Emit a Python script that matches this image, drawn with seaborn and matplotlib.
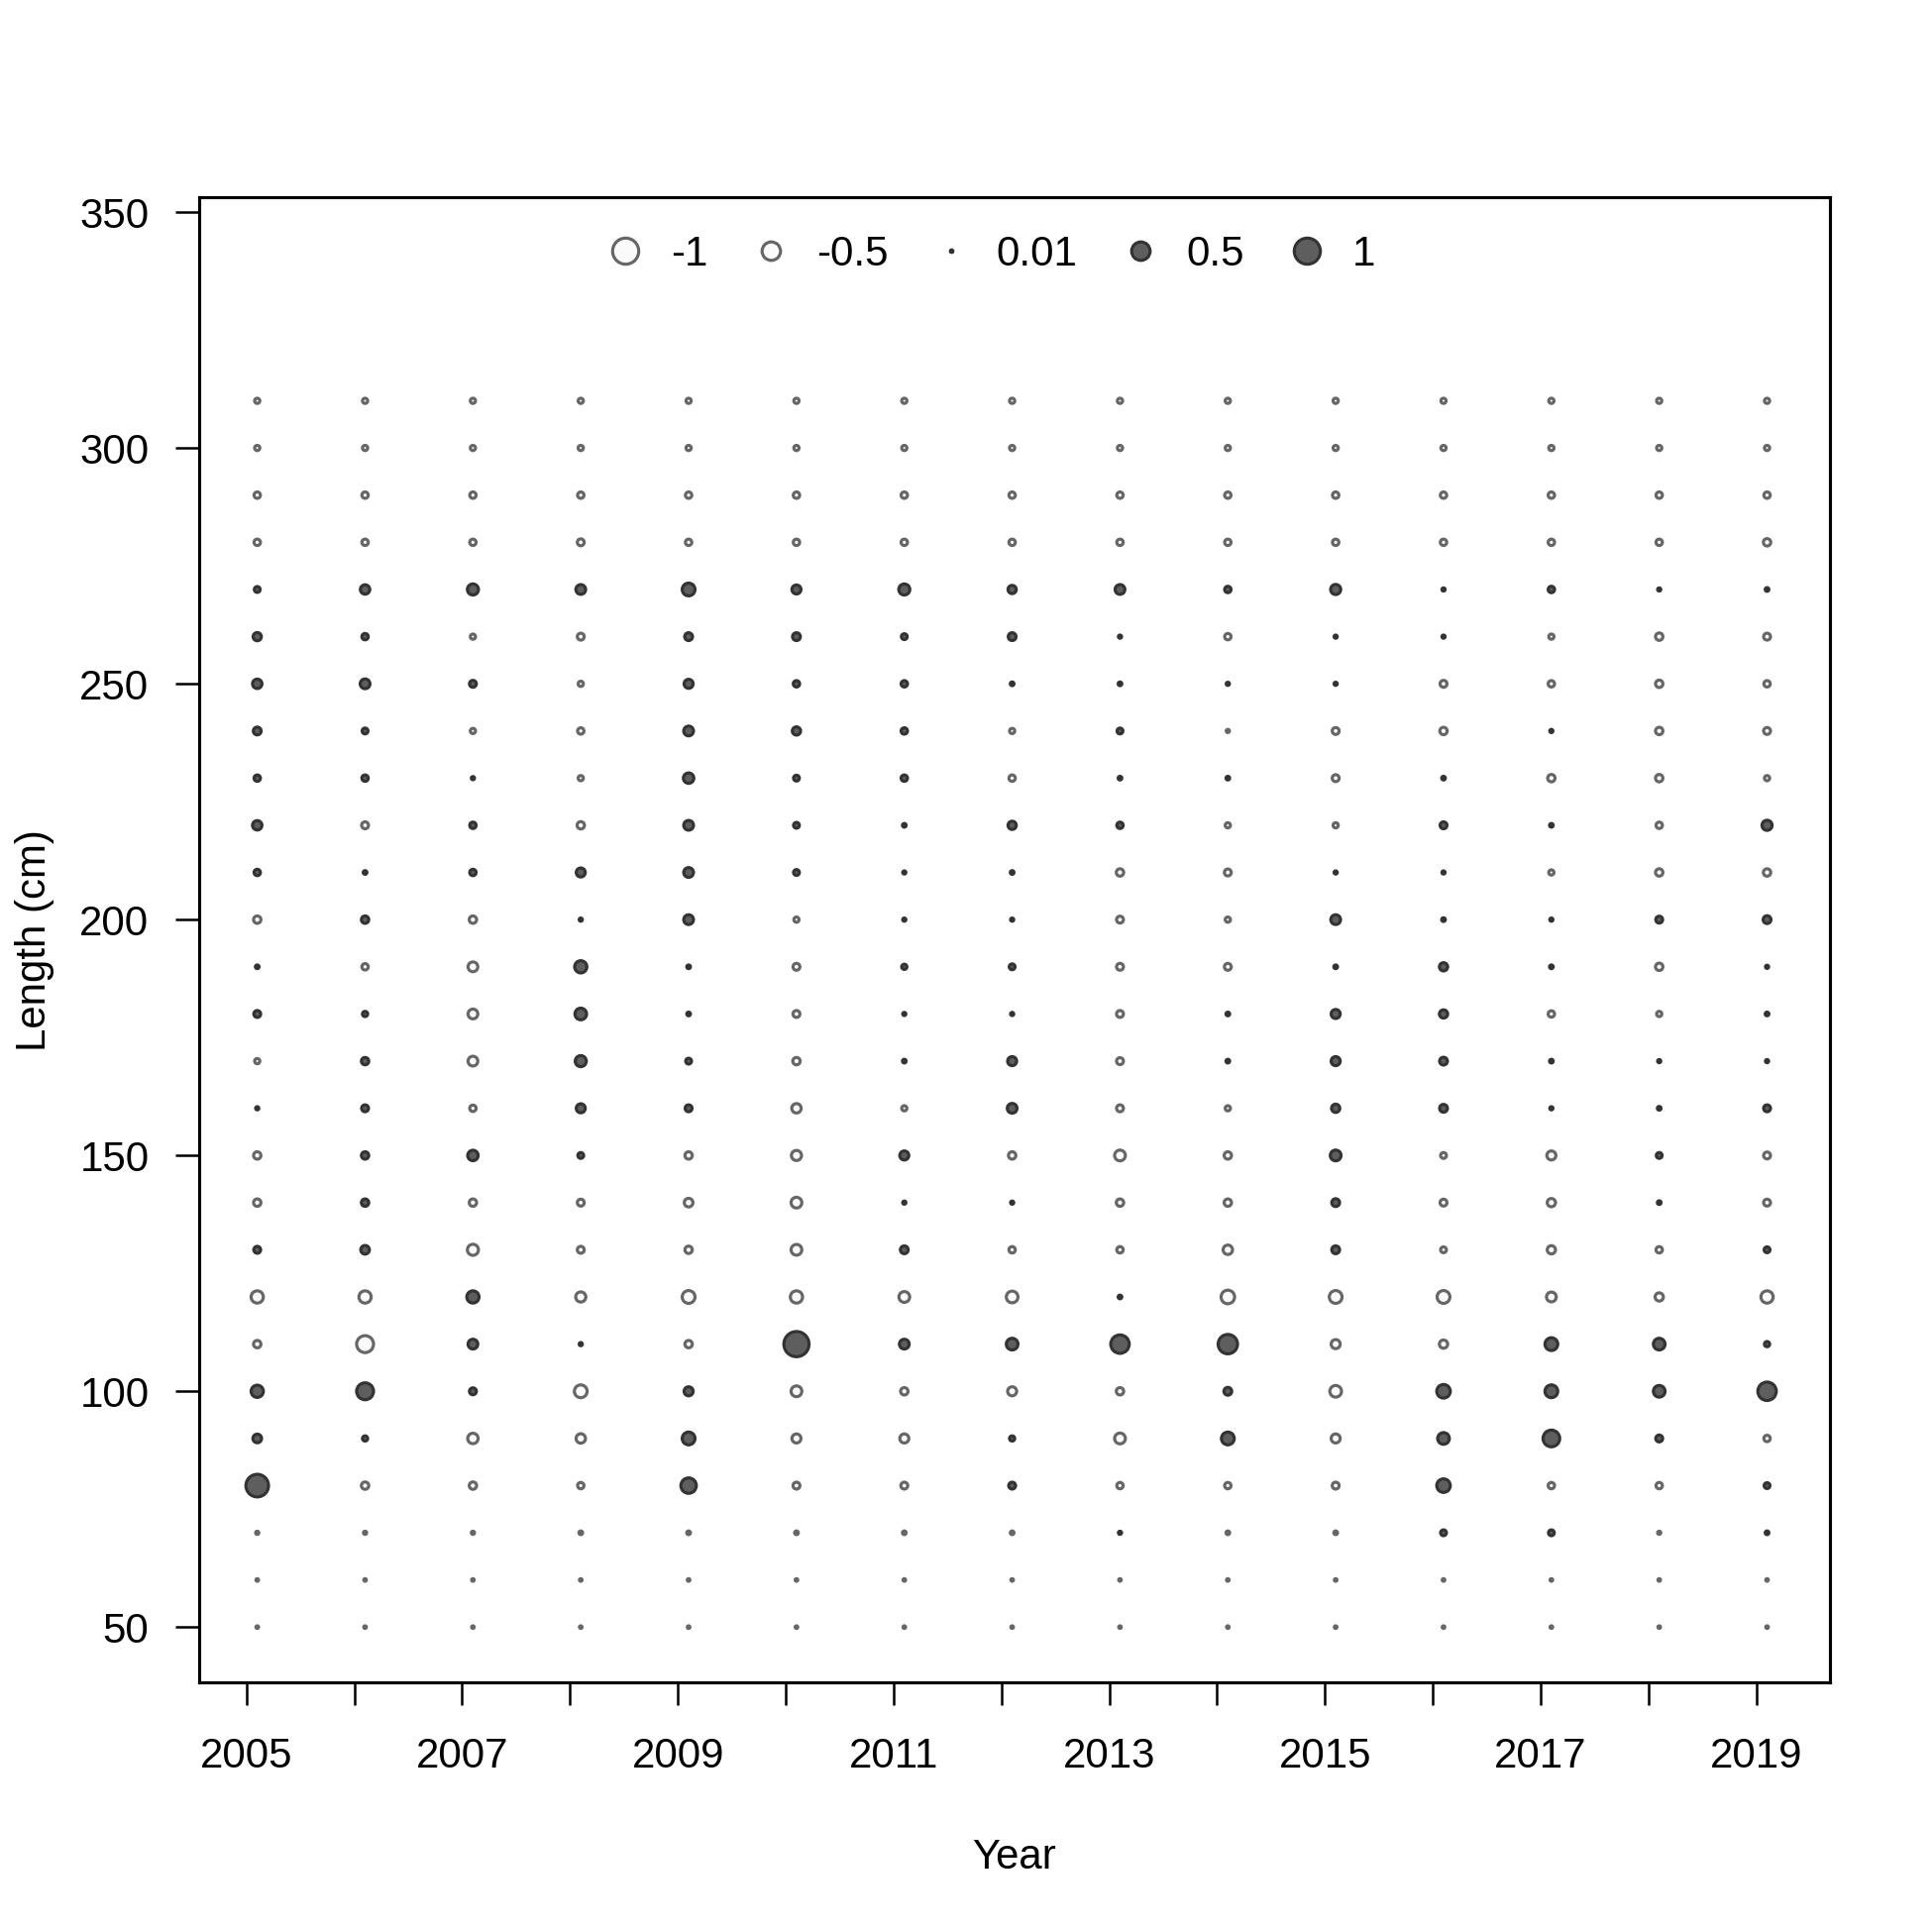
import numpy as np
import pandas as pd
import matplotlib
matplotlib.use("Agg")
import matplotlib.pyplot as plt
from matplotlib.lines import Line2D
import seaborn as sns

# Pearson residuals by year (columns) and length bin (rows, 310 -> 50 cm)
years = list(range(2005, 2020))
lengths = list(range(310, 40, -10))

r2005 = [-0.04, -0.04, -0.06, -0.06, 0.05, 0.10, 0.13, 0.09, 0.06, 0.13, 0.06, -0.08, 0.02, 0.07,
         -0.04, 0.015, -0.08, -0.08, 0.07, -0.22, -0.08, 0.22, 0.11, 0.75, -0.015, -0.01, -0.01]
r2006 = [-0.04, -0.04, -0.06, -0.06, 0.13, 0.06, 0.14, 0.05, 0.06, -0.07, 0.02, 0.08, -0.06, 0.04,
         0.08, 0.07, 0.08, 0.08, 0.11, -0.22, -0.42, 0.42, 0.04, -0.08, -0.015, -0.01, -0.01]
r2007 = [-0.04, -0.04, -0.06, -0.06, 0.18, -0.04, 0.07, -0.04, 0.015, 0.06, 0.06, -0.08, -0.14, -0.14,
         -0.14, -0.06, 0.16, -0.08, -0.18, 0.22, 0.14, 0.07, -0.16, -0.08, -0.015, -0.01, -0.01]
r2008 = [-0.04, -0.04, -0.06, -0.07, 0.14, -0.07, -0.04, -0.06, -0.04, -0.08, 0.12, 0.015, 0.22, 0.20,
         0.18, 0.12, 0.05, -0.07, -0.07, -0.15, 0.015, -0.24, -0.13, -0.06, -0.02, -0.01, -0.01]
r2009 = [-0.04, -0.04, -0.06, -0.06, 0.24, 0.09, 0.12, 0.14, 0.16, 0.14, 0.14, 0.14, 0.02, 0.02,
         0.05, 0.07, -0.08, -0.11, -0.08, -0.24, -0.08, 0.12, 0.24, 0.35, -0.02, -0.01, -0.01]
r2010 = [-0.04, -0.04, -0.06, -0.06, 0.12, 0.09, 0.06, 0.10, 0.05, 0.05, 0.05, -0.04, -0.07, -0.07,
         -0.08, -0.13, -0.15, -0.17, -0.17, -0.22, 0.93, -0.17, -0.12, -0.07, -0.02, -0.01, -0.01]
r2011 = [-0.04, -0.04, -0.06, -0.06, 0.18, 0.05, 0.06, 0.06, 0.06, 0.02, 0.015, 0.015, 0.04, 0.015,
         0.02, -0.04, 0.12, 0.015, 0.09, -0.17, 0.14, -0.08, -0.12, -0.07, -0.02, -0.01, -0.01]
r2012 = [-0.04, -0.04, -0.06, -0.06, 0.10, 0.09, 0.02, -0.04, -0.06, 0.10, 0.02, 0.015, 0.05, 0.015,
         0.12, 0.14, -0.08, 0.015, -0.06, -0.20, 0.20, -0.12, 0.04, 0.07, -0.02, -0.01, -0.01]
r2013 = [-0.04, -0.04, -0.06, -0.06, 0.14, 0.015, 0.02, 0.05, 0.02, 0.06, -0.08, -0.07, -0.07, -0.07,
         -0.07, -0.07, -0.17, -0.08, -0.06, 0.02, 0.50, -0.08, -0.17, -0.06, 0.015, -0.01, -0.01]
r2014 = [-0.04, -0.04, -0.06, -0.06, 0.06, -0.06, 0.015, -0.015, 0.02, -0.04, -0.07, -0.04, -0.07, 0.02,
         0.02, -0.04, -0.08, -0.08, -0.13, -0.27, 0.55, 0.09, 0.24, -0.06, -0.02, -0.01, -0.01]
r2015 = [-0.04, -0.04, -0.06, -0.06, 0.15, 0.015, 0.015, -0.07, -0.07, -0.04, 0.015, 0.14, 0.02, 0.12,
         0.12, 0.10, 0.17, 0.09, 0.09, -0.24, -0.12, -0.20, -0.12, -0.07, -0.02, -0.01, -0.01]
r2016 = [-0.04, -0.04, -0.06, -0.06, 0.015, 0.015, -0.07, -0.08, 0.02, 0.07, 0.015, 0.02, 0.10, 0.10,
         0.09, 0.09, -0.05, -0.07, -0.05, -0.24, -0.10, 0.27, 0.20, 0.27, 0.05, -0.01, -0.01]
r2017 = [-0.04, -0.04, -0.06, -0.06, 0.06, -0.04, -0.06, 0.015, -0.08, 0.02, -0.04, 0.015, 0.02, -0.06,
         0.02, 0.015, -0.12, -0.10, -0.10, -0.14, 0.24, 0.24, 0.41, -0.06, 0.05, -0.01, -0.01]
r2018 = [-0.04, -0.04, -0.06, -0.06, 0.015, -0.08, -0.08, -0.08, -0.08, -0.06, -0.08, 0.07, -0.08, -0.04,
         0.015, 0.02, 0.05, 0.02, -0.06, -0.10, 0.20, 0.20, 0.07, -0.06, -0.015, -0.01, -0.01]
r2019 = [-0.04, -0.04, -0.06, -0.08, 0.02, -0.07, -0.06, -0.07, -0.04, 0.15, -0.08, 0.09, 0.015, 0.02,
         0.015, 0.07, -0.07, -0.07, 0.05, -0.22, 0.04, 0.50, -0.06, 0.05, 0.02, -0.01, -0.01]

resids = [r2005, r2006, r2007, r2008, r2009, r2010, r2011, r2012, r2013, r2014,
          r2015, r2016, r2017, r2018, r2019]

legend_vals = [-1, -0.5, 0.01, 0.5, 1]
legend_labels = ["-1", "-0.5", "0.01", "0.5", "1"]

rows = []
for yr, col in zip(years, resids):
    for ln, r in zip(lengths, col):
        rows.append({"Year": yr + 0.1, "Length": ln, "resid": r, "absres": abs(r)})
df = pd.DataFrame(rows)

sns.set_style("white")
plt.rcParams["font.family"] = ["Liberation Sans", "DejaVu Sans"]
plt.rcParams["text.color"] = "black"
plt.rcParams["axes.labelcolor"] = "black"
plt.rcParams["xtick.color"] = "black"
plt.rcParams["ytick.color"] = "black"

POS_FACE, POS_EDGE = "#5e5e5e", "#333333"
NEG_FACE, NEG_EDGE = "#fafafa", "#666666"
SMAX = 40.0
LW = 0.75
FS = 10.1

fig = plt.figure(figsize=(6.5, 6.5), dpi=300)
ax = fig.add_axes([0.103, 0.129, 0.844, 0.769])

for sub, fc, ec in [(df[df.resid < 0], NEG_FACE, NEG_EDGE), (df[df.resid >= 0], POS_FACE, POS_EDGE)]:
    sns.scatterplot(data=sub, x="Year", y="Length", size="absres", sizes=(0, SMAX), size_norm=(0, 1),
                    color=fc, edgecolor=ec, linewidth=LW, legend=False, ax=ax)

ax.set_xlim(2004.56, 2019.68)
ax.set_ylim(38.2, 353.2)

ax.set_xticks(years)
ax.set_xticklabels([str(y) if (y - 2005) % 2 == 0 else "" for y in years])
ax.set_yticks(range(50, 351, 50))
ax.tick_params(axis="x", direction="out", length=5.5, width=0.6, pad=7.5, labelsize=FS)
ax.tick_params(axis="y", direction="out", length=5.8, width=0.6, pad=6.3, labelsize=FS)
ax.tick_params(bottom=True, left=True)

for sp in ax.spines.values():
    sp.set_visible(True)
    sp.set_color("black")
    sp.set_linewidth(0.75)

ax.set_xlabel("Year", fontsize=FS, labelpad=15)
ax.set_ylabel("Length (cm)", fontsize=FS, labelpad=6)

handles = []
for v in legend_vals:
    fc, ec = (POS_FACE, POS_EDGE) if v > 0 else (NEG_FACE, NEG_EDGE)
    handles.append(Line2D([], [], linestyle="none", marker="o", markersize=np.sqrt(SMAX * abs(v)),
                          markerfacecolor=fc, markeredgecolor=ec, markeredgewidth=LW))
ax.legend(handles, legend_labels, ncol=5, loc="upper center", bbox_to_anchor=(0.485, 1.0),
          frameon=False, fontsize=FS, handlelength=1.0, handletextpad=0.6, columnspacing=1.0)

fig.savefig("out.png", dpi=300, facecolor="white")
